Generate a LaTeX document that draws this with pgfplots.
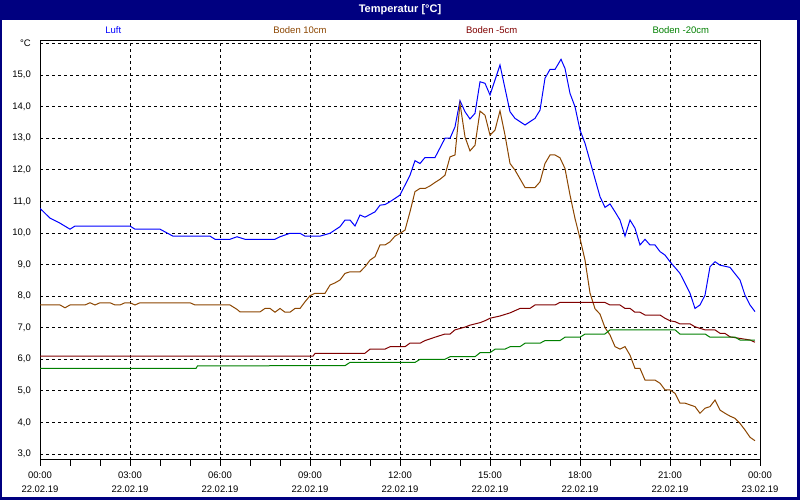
\documentclass[border=0pt]{standalone}
\usepackage{fontspec}
\setmainfont{Liberation Sans}
\usepackage{pgfplots}
\pgfplotsset{compat=1.18}
\definecolor{navyc}{RGB}{0,0,128}
\definecolor{luftc}{RGB}{0,0,255}
\definecolor{b10c}{RGB}{140,70,0}
\definecolor{b5c}{RGB}{128,0,0}
\definecolor{b20c}{RGB}{0,128,0}
\newcommand{\lab}{\fontsize{9.5}{14}\selectfont}
\begin{document}
\begin{tikzpicture}
\fill[navyc] (0pt,0pt) rectangle (800pt,500pt);
\fill[white] (2pt,3pt) rectangle (797pt,479.5pt);
\node[white,font=\fontsize{11}{13}\selectfont\bfseries] at (400pt,490pt) {Temperatur [°C]};
\node[luftc,font=\lab] at (113.3pt,469.5pt) {Luft};
\node[b10c,font=\lab] at (300pt,469.5pt) {Boden 10cm};
\node[b5c,font=\lab] at (491.7pt,469.5pt) {Boden -5cm};
\node[b20c,font=\lab] at (680.8pt,469.5pt) {Boden -20cm};
\begin{axis}[
  at={(40pt,40pt)}, anchor=south west, scale only axis,
  width=720pt, height=419pt,
  xmin=0, xmax=24, ymin=2.81, ymax=16.08,
  xtick={0,3,...,24},
  minor xtick={1,2,4,5,7,8,10,11,13,14,16,17,19,20,22,23},
  xticklabels={{00:00\\22.02.19},{03:00\\22.02.19},{06:00\\22.02.19},{09:00\\22.02.19},{12:00\\22.02.19},{15:00\\22.02.19},{18:00\\22.02.19},{21:00\\22.02.19},{00:00\\23.02.19}},
  ytick={3,4,...,16},
  yticklabels={{3,0},{4,0},{5,0},{6,0},{7,0},{8,0},{9,0},{10,0},{11,0},{12,0},{13,0},{14,0},{15,0},°C},
  tick pos=left,
  tick align=outside,
  major tick length=6pt, minor tick length=6pt,
  ytick style={draw=none},
  xtick style={black, line width=0.8pt},
  minor tick style={black, line width=0.8pt},
  xmajorgrids, ymajorgrids,
  major grid style={black, line width=0.8pt, dash pattern=on 3pt off 3pt},
  axis line style={black, line width=1pt},
  xticklabel style={font=\lab, align=center, anchor=north, inner sep=0pt, yshift=-5.5pt},
  yticklabel style={font=\lab, anchor=east, inner sep=0pt, xshift=-3pt},
  every axis plot/.append style={line width=1pt, no marks},
]
% Luft
\addplot[luftc] coordinates {
(0,10.78) (0.333,10.47) (0.667,10.31) (1.0,10.12) (1.167,10.22) (3.0,10.22) (3.167,10.12) (4.0,10.12) (4.43,9.90) (5.667,9.90) (5.833,9.80) (6.333,9.80) (6.567,9.88) (6.833,9.80) (7.833,9.80) (8.0,9.88) (8.333,9.99) (8.667,9.99) (8.833,9.90) (9.333,9.90) (9.667,9.99) (10.0,10.20) (10.167,10.41) (10.333,10.41) (10.5,10.22) (10.667,10.57) (10.833,10.50) (11.167,10.67) (11.333,10.88) (11.5,10.90) (11.667,10.99) (12.0,11.20) (12.333,11.83) (12.5,12.29) (12.667,12.20) (12.833,12.39) (13.167,12.39) (13.5,13.00) (13.667,13.00) (13.833,13.36) (14.0,14.19) (14.167,13.84) (14.333,13.61) (14.5,13.79) (14.667,14.79) (14.833,14.74) (15.0,14.37) (15.333,15.32) (15.667,13.84) (15.833,13.63) (16.167,13.42) (16.5,13.63) (16.667,13.89) (16.833,14.90) (17.0,15.18) (17.167,15.18) (17.367,15.50) (17.5,15.21) (17.667,14.42) (17.833,14.00) (18.0,13.26) (18.167,12.84) (18.433,11.94) (18.667,11.15) (18.833,10.81) (19.0,10.92) (19.167,10.67) (19.333,10.41) (19.5,9.90) (19.667,10.41) (19.833,10.15) (20.0,9.62) (20.167,9.80) (20.333,9.62) (20.5,9.62) (20.667,9.41) (20.833,9.30) (21.0,9.09) (21.333,8.72) (21.667,8.09) (21.833,7.61) (22.0,7.72) (22.167,8.03) (22.333,8.93) (22.5,9.09) (22.667,8.98) (23.0,8.91) (23.333,8.51) (23.5,8.03) (23.667,7.72) (23.833,7.51)
};
% Boden 10cm
\addplot[b10c] coordinates {
(0,7.72) (0.667,7.72) (0.833,7.63) (1.0,7.72) (1.5,7.72) (1.667,7.79) (1.833,7.72) (2.0,7.79) (2.333,7.79) (2.5,7.72) (2.667,7.72) (2.833,7.79) (3.0,7.79) (3.167,7.72) (3.333,7.79) (5.0,7.79) (5.167,7.72) (6.333,7.72) (6.567,7.58) (6.667,7.50) (7.333,7.50) (7.5,7.61) (7.667,7.61) (7.833,7.49) (8.0,7.61) (8.167,7.49) (8.333,7.49) (8.5,7.61) (8.667,7.61) (8.833,7.82) (9.0,8.01) (9.167,8.09) (9.5,8.09) (9.667,8.35) (9.833,8.42) (10.0,8.51) (10.167,8.72) (10.333,8.77) (10.667,8.77) (10.833,8.93) (11.0,9.14) (11.167,9.25) (11.333,9.62) (11.5,9.62) (11.667,9.72) (11.833,9.90) (12.0,9.99) (12.167,10.09) (12.333,10.67) (12.5,11.31) (12.667,11.41) (12.833,11.41) (13.0,11.49) (13.167,11.6) (13.333,11.7) (13.5,11.83) (13.667,12.41) (13.833,12.47) (14.0,14.10) (14.167,13.04) (14.333,12.60) (14.5,12.78) (14.667,13.86) (14.833,13.73) (15.0,13.10) (15.167,13.26) (15.333,13.87) (15.5,13.10) (15.667,12.20) (15.833,11.99) (16.167,11.44) (16.5,11.44) (16.667,11.62) (16.833,12.20) (17.0,12.47) (17.167,12.47) (17.333,12.38) (17.5,12.04) (17.667,11.2) (17.833,10.46) (18.0,9.83) (18.167,9.14) (18.333,8.1) (18.5,7.6) (18.667,7.43) (18.833,7.0) (19.0,6.77) (19.167,6.40) (19.333,6.32) (19.5,6.40) (19.667,6.13) (19.833,5.71) (20.0,5.71) (20.167,5.34) (20.5,5.34) (20.667,5.24) (20.833,5.03) (21.0,5.03) (21.167,4.92) (21.333,4.61) (21.5,4.61) (21.833,4.50) (22.0,4.29) (22.167,4.45) (22.333,4.50) (22.5,4.71) (22.667,4.39) (22.833,4.29) (23.0,4.20) (23.167,4.13) (23.333,3.97) (23.5,3.76) (23.667,3.53) (23.833,3.42)
};
% Boden -5cm
\addplot[b5c] coordinates {
(0,6.10) (9.1,6.10) (9.17,6.19) (10.83,6.19) (11.0,6.32) (11.5,6.32) (11.67,6.40) (12.17,6.40) (12.33,6.51) (12.67,6.51) (12.83,6.59) (13.17,6.70) (13.5,6.80) (13.67,6.80) (13.83,6.93) (14.17,7.02) (14.33,7.08) (14.5,7.12) (14.67,7.16) (14.83,7.22) (15.0,7.30) (15.33,7.37) (15.67,7.47) (16.0,7.61) (16.33,7.61) (16.5,7.72) (17.17,7.72) (17.33,7.80) (18.83,7.80) (19.0,7.72) (19.33,7.72) (19.5,7.61) (19.67,7.61) (19.83,7.49) (20.0,7.49) (20.17,7.40) (20.67,7.40) (20.83,7.30) (21.0,7.22) (21.17,7.19) (21.33,7.12) (21.67,7.12) (21.83,7.03) (22.17,6.93) (22.5,6.93) (22.67,6.82) (22.83,6.82) (23.0,6.71) (23.67,6.61) (23.83,6.54)
};
% Boden -20cm
\addplot[b20c] coordinates {
(0,5.71) (5.2,5.71) (5.25,5.79) (10.17,5.80) (10.33,5.90) (12.5,5.90) (12.67,6.0) (13.5,6.0) (13.67,6.08) (14.5,6.08) (14.67,6.21) (15.0,6.21) (15.17,6.32) (15.5,6.32) (15.67,6.40) (16.0,6.40) (16.17,6.51) (16.67,6.51) (16.83,6.59) (17.33,6.59) (17.5,6.70) (18.0,6.70) (18.17,6.80) (18.83,6.80) (19.0,6.93) (21.17,6.93) (21.33,6.80) (22.17,6.80) (22.33,6.70) (23.17,6.70) (23.33,6.61) (23.83,6.61)
};
\end{axis}
\pgfresetboundingbox
\path[use as bounding box] (0pt,0pt) rectangle (800pt,500pt);
\end{tikzpicture}
\end{document}
